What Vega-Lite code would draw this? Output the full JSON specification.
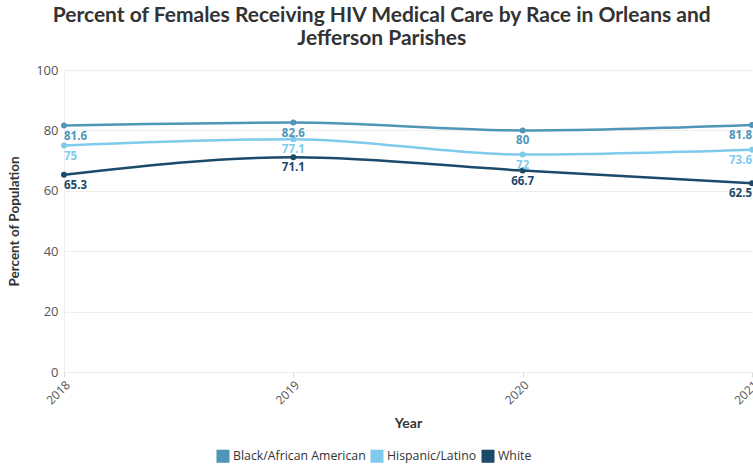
{
  "$schema": "https://vega.github.io/schema/vega-lite/v6.json",
  "width": 688,
  "height": 302,
  "autosize": {"type": "none"},
  "padding": {"left": 64, "top": 70, "right": 1, "bottom": 94},
  "background": "white",
  "title": {
    "text": ["Percent of Females Receiving HIV Medical Care by Race in Orleans and", "Jefferson Parishes"],
    "font": "Lato",
    "fontSize": 21,
    "fontWeight": "bold",
    "color": "#333333",
    "anchor": "middle",
    "frame": "bounds",
    "lineHeight": 23,
    "offset": 15,
    "dx": -2
  },
  "data": {
    "values": [
      {"year": "2018", "race": "Black/African American", "pct": 81.6},
      {"year": "2019", "race": "Black/African American", "pct": 82.6},
      {"year": "2020", "race": "Black/African American", "pct": 80},
      {"year": "2021", "race": "Black/African American", "pct": 81.8},
      {"year": "2018", "race": "Hispanic/Latino", "pct": 75},
      {"year": "2019", "race": "Hispanic/Latino", "pct": 77.1},
      {"year": "2020", "race": "Hispanic/Latino", "pct": 72},
      {"year": "2021", "race": "Hispanic/Latino", "pct": 73.6},
      {"year": "2018", "race": "White", "pct": 65.3},
      {"year": "2019", "race": "White", "pct": 71.1},
      {"year": "2020", "race": "White", "pct": 66.7},
      {"year": "2021", "race": "White", "pct": 62.5}
    ]
  },
  "encoding": {
    "x": {
      "field": "year", "type": "ordinal",
      "scale": {"type": "point", "padding": 0},
      "axis": {
        "title": "Year", "titleFont": "Lato", "titleFontSize": 14, "titleFontWeight": "bold", "titleColor": "#333333", "titlePadding": 10,
        "labelAngle": -45, "labelAlign": "right", "labelBaseline": "top", "labelFont": "Open Sans", "labelFontSize": 12, "labelColor": "#555555",
        "domain": false, "ticks": true, "tickColor": "#dddddd", "tickSize": 5, "grid": false
      }
    },
    "y": {
      "field": "pct", "type": "quantitative",
      "scale": {"domain": [0, 100]},
      "axis": {
        "title": "Percent of Population", "titleFont": "Lato", "titleFontSize": 13.5, "titleFontWeight": "bold", "titleColor": "#333333", "titlePadding": 14,
        "values": [0, 20, 40, 60, 80, 100],
        "labelFont": "Open Sans", "labelFontSize": 13, "labelColor": "#555555", "labelPadding": 6,
        "domain": true, "domainColor": "#eeeeee", "ticks": false, "grid": true, "gridColor": "#eeeeee"
      }
    },
    "color": {
      "field": "race", "type": "nominal",
      "scale": {"domain": ["Black/African American", "Hispanic/Latino", "White"], "range": ["#5096b8", "#7fcbed", "#1b4a6b"]},
      "legend": {
        "title": null, "orient": "none", "legendX": 152, "legendY": 379, "direction": "horizontal", "symbolType": "square", "symbolSize": 170,
        "symbolStrokeWidth": 0, "symbolOpacity": 1,
        "labelFont": "Open Sans", "labelFontSize": 12.3, "labelColor": "#333333", "columnPadding": 4, "labelOffset": 3
      }
    }
  },
  "config": {
    "view": {"stroke": null}
  },
  "layer": [
    {"mark": {"type": "line", "interpolate": "monotone", "strokeWidth": 2.5}},
    {"mark": {"type": "point", "filled": true, "size": 35, "opacity": 1}},
    {
      "transform": [{"filter": "datum.year == '2018'"}],
      "mark": {"type": "text", "align": "left", "baseline": "top", "dy": 5, "font": "Open Sans", "fontSize": 11.5, "fontWeight": "bold"},
      "encoding": {"text": {"field": "pct", "type": "quantitative"}}
    },
    {
      "transform": [{"filter": "datum.year == '2019' || datum.year == '2020'"}],
      "mark": {"type": "text", "align": "center", "baseline": "top", "dy": 5, "font": "Open Sans", "fontSize": 11.5, "fontWeight": "bold"},
      "encoding": {"text": {"field": "pct", "type": "quantitative"}}
    },
    {
      "transform": [{"filter": "datum.year == '2021'"}],
      "mark": {"type": "text", "align": "right", "baseline": "top", "dy": 5, "font": "Open Sans", "fontSize": 11.5, "fontWeight": "bold"},
      "encoding": {"text": {"field": "pct", "type": "quantitative"}}
    }
  ]
}
